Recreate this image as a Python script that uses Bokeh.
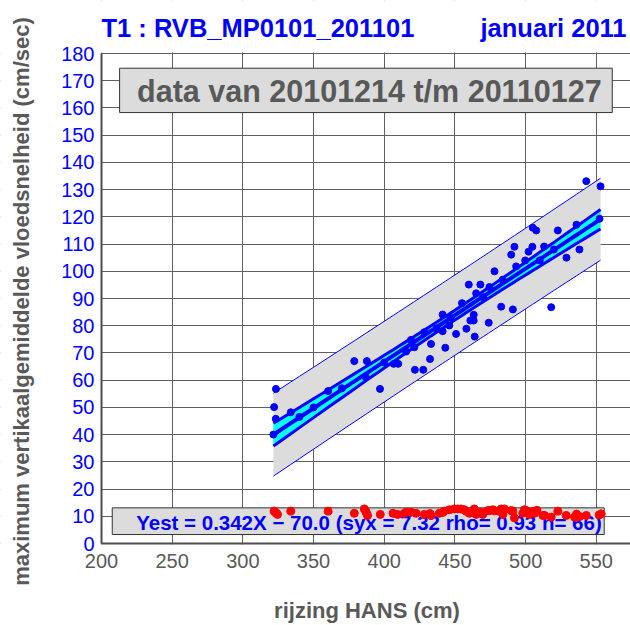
import numpy as np
from bokeh.plotting import figure
from bokeh.models import Range1d, FixedTicker, ColumnDataSource
from bokeh.core.properties import value
from bokeh.embed import file_html
from bokeh.resources import INLINE

# ---------------- data ----------------
x_obs = [321.6, 322.1, 323.3, 323.4, 333.9, 340.0, 350.0, 360.3, 370.0, 378.8,
         387.0, 387.7, 397.0, 400.0, 406.7, 409.9, 415.5, 418.9, 421.3, 421.7,
         427.6, 428.3, 432.4, 433.1, 437.0, 441.3, 441.3, 443.2, 446.0, 447.0,
         450.8, 455.0, 458.1, 459.8, 460.9, 463.3, 463.3, 464.0, 465.0, 468.0,
         470.0, 473.9, 474.4, 478.0, 482.7, 483.8, 489.8, 491.0, 492.1, 493.3,
         499.7, 502.1, 504.8, 505.1, 507.5, 513.1, 518.1, 520.0, 522.8, 528.9,
         536.0, 538.1, 542.9, 552.3, 553.0, 510.0]
y_obs = [40.0, 50.1, 45.8, 56.8, 48.2, 46.5, 50.0, 56.0, 57.0, 67.0,
         61.1, 67.0, 56.8, 66.5, 66.0, 66.0, 70.5, 74.8, 72.1, 63.8,
         63.8, 77.6, 67.8, 73.3, 79.0, 78.0, 84.1, 71.9, 80.1, 83.0,
         77.0, 88.3, 78.9, 95.1, 81.9, 81.9, 84.0, 76.0, 91.9, 95.1,
         90.5, 81.1, 94.2, 100.0, 87.0, 96.9, 106.1, 86.0, 109.0, 101.8,
         104.0, 107.2, 109.0, 116.0, 115.0, 109.1, 86.8, 108.0, 115.0, 105.0,
         117.1, 108.0, 133.1, 119.3, 131.2, 104.0]

x_red = [322.1, 324.5, 333.9, 360.3, 378.8, 385.9, 387.5, 388.2, 397.2, 406.2,
         409.5, 414.2, 418.9, 422.5, 428.3, 433.1, 439.0, 442.5, 446.1, 449.6,
         452.0, 454.3, 456.7, 457.9, 460.2, 463.7, 465.0, 468.5, 469.7, 473.3,
         474.4, 476.8, 481.5, 482.7, 483.9, 485.0, 489.8, 491.0, 492.1, 498.0,
         499.2, 500.4, 501.6, 502.7, 506.3, 512.2, 513.4, 518.1, 522.8, 528.7,
         534.6, 537.0, 538.2, 542.9, 553.5, 415.5, 432.4, 441.3, 463.3, 478.0,
         505.0, 508.0, 536.0, 552.0, 323.3, 387.0]
y_red = [11.9, 10.7, 11.9, 11.9, 11.1, 12.7, 11.1, 10.3, 10.7, 11.1,
         10.7, 11.1, 11.5, 11.1, 10.7, 10.3, 11.1, 11.9, 12.4, 12.7,
         12.7, 12.7, 12.4, 11.9, 11.1, 12.7, 10.7, 11.5, 10.7, 12.1,
         12.1, 12.4, 11.9, 12.7, 10.7, 12.7, 12.1, 11.9, 9.4, 11.1,
         12.4, 12.1, 11.5, 10.7, 11.1, 10.3, 10.3, 9.7, 11.9, 10.3,
         9.7, 9.7, 9.9, 10.3, 10.9, 11.5, 11.0, 11.4, 11.6, 12.0,
         11.8, 12.2, 10.8, 10.5, 11.3, 11.8]

slope = 0.342
intercept = -70.0
syx = 7.32
t_val = 2.0

x_ticks = [200, 250, 300, 350, 400, 450, 500, 550]
y_ticks = [0, 10, 20, 30, 40, 50, 60, 70, 80, 90, 100, 110, 120, 130, 140, 150, 160, 170, 180]

title_left = "T1 : RVB_MP0101_201101"
title_right = "januari 2011"
period_text = "data van 20101214 t/m 20110127"
fit_text = "Yest = 0.342X \u2212 70.0 (syx = 7.32 rho= 0.93 n= 66)"
x_label = "rijzing HANS (cm)"
y_label = "maximum vertikaalgemiddelde vloedsnelheid (cm/sec)"

# ---------------- regression bands ----------------
xo = np.array(x_obs)
n = len(xo)
xm = xo.mean()
sxx = ((xo - xm) ** 2).sum()
xs = np.unique(np.sort(xo))
yfit = slope * xs + intercept
h_pred = t_val * syx * np.sqrt(1 + 1 / n + (xs - xm) ** 2 / sxx)
h_conf = t_val * syx * np.sqrt(1 / n + (xs - xm) ** 2 / sxx)
band = ColumnDataSource(dict(x=xs, y=yfit, plo=yfit - h_pred, phi=yfit + h_pred,
                             clo=yfit - h_conf, chi=yfit + h_conf))

FONT = value("Liberation Sans")
BLUE = "#0000ff"
GRAY_TXT = "#595959"

# plotting box is 200..574.2 (x) by 0..180 (y); the frame covers the whole
# canvas so that the header, tick labels and axis titles sit inside it
XL, X0, X1 = 128.555, 200, 574.2
YB, Y0, YT, Y1 = -30.12, 0, 180, 199.47

p = figure(width=630, height=625, output_backend="svg", toolbar_location=None,
           x_range=Range1d(XL, X1), y_range=Range1d(YB, Y1),
           min_border_left=0, min_border_right=0, min_border_top=0, min_border_bottom=0)
p.title.text = ""
p.outline_line_color = None
p.background_fill_color = "white"
p.border_fill_color = "white"

# axes
for ax in (p.xaxis[0], p.yaxis[0]):
    ax.major_tick_out = 0
    ax.major_tick_in = 0
    ax.minor_tick_out = 0
    ax.minor_tick_in = 0
    ax.axis_line_color = "#4d4d4d"
    ax.axis_line_width = 2
    ax.major_label_text_font = "Liberation Sans"
    ax.major_label_text_font_size = "20px"

p.xaxis.fixed_location = Y0
p.yaxis.fixed_location = X0
p.xaxis.bounds = (X0, X1)
p.yaxis.bounds = (Y0, YT)
p.xaxis.ticker = FixedTicker(ticks=x_ticks)
p.yaxis.ticker = FixedTicker(ticks=y_ticks)
p.xaxis.major_label_text_color = GRAY_TXT
p.yaxis.major_label_text_color = BLUE
p.xaxis.major_label_standoff = 10
p.yaxis.major_label_standoff = 7

p.xgrid.ticker = FixedTicker(ticks=x_ticks)
p.ygrid.ticker = FixedTicker(ticks=y_ticks)
p.grid.grid_line_color = "#606060"
p.grid.grid_line_width = 1

# blank the strips outside the 0..180 box (grid lines run the full frame)
p.quad(left=[XL, XL, XL], right=[X1, X1, X0 - 0.3],
       bottom=[YT + 0.4, YB, YB], top=[Y1, Y0 - 0.4, Y1],
       fill_color="white", line_color=None)

# header and axis titles
p.text(x=[X0], y=[189.4], text=[title_left], text_font=FONT, text_font_style="bold",
       text_font_size="25.5px", text_color=BLUE, text_align="left",
       text_baseline="middle")
p.text(x=[571.4], y=[189.4], text=[title_right], text_font=FONT, text_font_style="bold",
       text_font_size="25.5px", text_color=BLUE, text_align="right",
       text_baseline="middle")
p.text(x=[387.8], y=[-24.6], text=[x_label], text_font=FONT, text_font_style="bold",
       text_font_size="22px", text_color=GRAY_TXT, text_align="center",
       text_baseline="middle")
p.text(x=[143.4], y=[88.9], text=[y_label], text_font=FONT, text_font_style="bold",
       text_font_size="22px", text_color=GRAY_TXT, text_align="center",
       text_baseline="middle", angle=np.pi / 2)

# prediction band
p.varea(x="x", y1="plo", y2="phi", source=band, fill_color="#dcdcdc")
p.line(x="x", y="phi", source=band, line_color=BLUE, line_width=1)
p.line(x="x", y="plo", source=band, line_color=BLUE, line_width=1)
# confidence band
p.varea(x="x", y1="clo", y2="chi", source=band, fill_color="#00ffff")
p.line(x="x", y="chi", source=band, line_color=BLUE, line_width=3, line_join="round")
p.line(x="x", y="clo", source=band, line_color=BLUE, line_width=3, line_join="round")
p.line(x="x", y="y", source=band, line_color=BLUE, line_width=4, line_join="round")

# observations
p.scatter(x_obs, y_obs, size=7, fill_color=BLUE, line_color=BLUE)

# top info box
p.quad(left=[212.8], right=[561.3], bottom=[158.3], top=[174.6],
       fill_color="#dcdcdc", line_color="#333333", line_width=1)
p.text(x=[389.5], y=[166.1], text=[period_text], text_font=FONT, text_font_style="bold",
       text_font_size="30.5px", text_color=GRAY_TXT, text_align="center",
       text_baseline="middle")

# bottom fit box
p.quad(left=[207.6], right=[555.6], bottom=[3.3], top=[13.1],
       fill_color="#dcdcdc", line_color="#333333", line_width=1)
p.text(x=[389.2], y=[7.85], text=[fit_text], text_font=FONT, text_font_style="bold",
       text_font_size="20.5px", text_color=BLUE, text_align="center",
       text_baseline="middle")

# red points
p.scatter(x_red, y_red, size=8, fill_color="#ff0000", line_color="#ff0000")

open("out.html", "w").write(file_html(p, INLINE))
